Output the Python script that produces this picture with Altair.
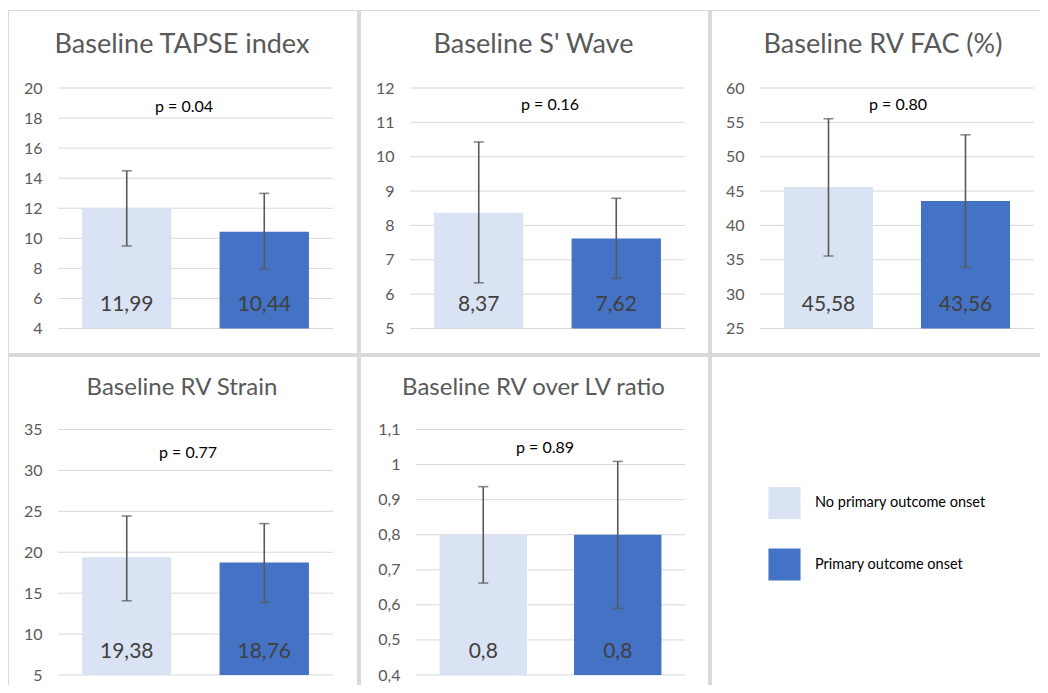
import altair as alt
import pandas as pd

# ---------------- data ----------------
groups = ["No primary outcome onset", "Primary outcome onset"]
bar_colors = ["#DAE3F3", "#4472C4"]

titles = [
    "Baseline TAPSE index",
    "Baseline S' Wave",
    "Baseline RV FAC (%)",
    "Baseline RV Strain",
    "Baseline RV over LV ratio",
]
p_labels = ["p = 0.04", "p = 0.16", "p = 0.80", "p = 0.77", "p = 0.89"]

mean_no = [11.99, 8.37, 45.58, 19.38, 0.8]
mean_yes = [10.44, 7.62, 43.56, 18.76, 0.8]
lo_no = [9.49, 6.33, 35.55, 14.07, 0.662]
hi_no = [14.49, 10.43, 55.53, 24.43, 0.937]
lo_yes = [7.98, 6.46, 33.9, 13.86, 0.59]
hi_yes = [12.99, 8.79, 53.19, 23.5, 1.009]

tick_values = [
    [4, 6, 8, 10, 12, 14, 16, 18, 20],
    [5, 6, 7, 8, 9, 10, 11, 12],
    [25, 30, 35, 40, 45, 50, 55, 60],
    [5, 10, 15, 20, 25, 30, 35],
    [0.4, 0.5, 0.6, 0.7, 0.8, 0.9, 1, 1.1],
]

# ---------------- style / layout ----------------
FONT = "Lato"
GRID = "#D9D9D9"
BORDER = "#D9D9D9"
ERR = "#595959"
TXT = "#595959"

panel_w = [349, 351, 332, 349, 351, 332]
panel_h = [343, 343, 343, 332, 332, 332]
panel_col = [0, 1, 2, 0, 1, 2]
panel_row = [0, 0, 0, 1, 1, 1]
x_ranges = [(50, 325), (53, 328), (52, 326), (50, 325), (59, 328)]
y_ranges = [(318.5, 78), (318.5, 78), (318.5, 78), (322, 76.5), (322, 76.5)]
title_sizes = [27, 27, 27, 24, 24]
title_x = [174, 176.5, 175, 174, 176.5]
title_y = [35, 35, 35, 35, 35]
p_x = [176, 193, 190, 180, 188]
p_y = [97, 95, 95, 100, 95]


def borders(i, one_row):
    """Table-like separators: thin outer lines, thicker inner lines."""
    w, h = panel_w[i], panel_h[i]
    top_w = 1 if panel_row[i] == 0 else 4
    left_w = 1 if panel_col[i] == 0 else 4
    top = alt.Chart(one_row).mark_rect(color=BORDER).encode(
        x=alt.value(0), x2=alt.value(w), y=alt.value(0), y2=alt.value(top_w))
    left = alt.Chart(one_row).mark_rect(color=BORDER).encode(
        x=alt.value(0), x2=alt.value(left_w), y=alt.value(0), y2=alt.value(h))
    return [top, left]


def panel(i):
    w, h = panel_w[i], panel_h[i]
    xr, yr = x_ranges[i], y_ranges[i]
    ticks = tick_values[i]
    df = pd.DataFrame({
        "group": groups,
        "mean": [mean_no[i], mean_yes[i]],
        "lo": [lo_no[i], lo_yes[i]],
        "hi": [hi_no[i], hi_yes[i]],
        "base": [ticks[0], ticks[0]],
    })
    grid_df = pd.DataFrame({"t": ticks})
    head_df = pd.DataFrame({"title": [titles[i]], "p": [p_labels[i]]})

    yscale = alt.Scale(domain=[ticks[0], ticks[-1]], range=[yr[0], yr[1]],
                       zero=False, nice=False)
    yaxis = alt.Axis(
        values=ticks, grid=False, domain=False, ticks=False, tickSize=0,
        labelPadding=16, offset=-xr[0], title=None, labelFlush=False,
        labelFont=FONT, labelFontSize=16, labelColor=TXT,
        labelExpr="replace(toString(datum.value), '.', ',')")
    xscale = alt.Scale(domain=groups, range=[xr[0], xr[1]],
                       paddingInner=0.35, paddingOuter=0.175)
    color = alt.Color("group:N", scale=alt.Scale(domain=groups, range=bar_colors),
                      legend=None)
    X = alt.X("group:N", scale=xscale, axis=None)

    def Y(f):
        return alt.Y(f, scale=yscale, axis=yaxis, title=None)

    grid = alt.Chart(grid_df).mark_rule(color=GRID, strokeWidth=1).encode(
        y=Y("t:Q"), x=alt.value(xr[0]), x2=alt.value(xr[1]),
    )
    bars = alt.Chart(df).mark_bar().encode(
        x=X, y=Y("mean:Q"), y2="base:Q", color=color,
    )
    err = alt.Chart(df).mark_rule(color=ERR, strokeWidth=1.6).encode(
        x=X, y=Y("lo:Q"), y2="hi:Q")
    cap_lo = alt.Chart(df).mark_tick(color=ERR, thickness=1.6, size=10).encode(
        x=X, y=Y("lo:Q"))
    cap_hi = alt.Chart(df).mark_tick(color=ERR, thickness=1.6, size=10).encode(
        x=X, y=Y("hi:Q"))
    vals = alt.Chart(df).transform_calculate(
        label="replace(toString(datum.mean), '.', ',')"
    ).mark_text(font=FONT, fontSize=21, color="#404040", baseline="middle",
                dy=-23.5).encode(
        x=X, y=Y("base:Q"), text="label:N")
    title = alt.Chart(head_df).mark_text(
        font=FONT, fontSize=title_sizes[i], color=TXT, baseline="middle"
    ).encode(x=alt.value(title_x[i]), y=alt.value(title_y[i]), text="title:N")
    pval = alt.Chart(head_df).mark_text(
        font=FONT, fontSize=16, color="#000000", baseline="middle"
    ).encode(x=alt.value(p_x[i]), y=alt.value(p_y[i]), text="p:N")

    layers = borders(i, head_df) + [grid, bars, err, cap_lo, cap_hi, vals, title, pval]
    return alt.layer(*layers).properties(width=w, height=h)


leg_df = pd.DataFrame({"group": groups})
leg_y = alt.Y("group:N", scale=alt.Scale(domain=groups, range=[150, 211.5], padding=0),
              axis=None)
leg_sq = alt.Chart(leg_df).mark_square(size=1030, opacity=1).encode(
    x=alt.value(76.5), y=leg_y,
    color=alt.Color("group:N", scale=alt.Scale(domain=groups, range=bar_colors),
                    legend=None),
)
leg_txt = alt.Chart(leg_df).mark_text(
    font=FONT, fontSize=14.5, color="#000000", align="left", baseline="middle"
).encode(x=alt.value(107), y=leg_y, text="group:N")
legend_panel = alt.layer(
    *borders(5, pd.DataFrame({"k": [0]})), leg_sq, leg_txt
).properties(width=panel_w[5], height=panel_h[5])

row1 = alt.hconcat(panel(0), panel(1), panel(2), spacing=0)
row2 = alt.hconcat(panel(3), panel(4), legend_panel, spacing=0)

chart = alt.vconcat(row1, row2, spacing=0).properties(
    padding={"left": 0, "top": 2, "right": 0, "bottom": 0},
    background="white",
).configure_view(strokeWidth=0)

chart.save("out.html", embed_options={"renderer": "svg", "actions": False})
